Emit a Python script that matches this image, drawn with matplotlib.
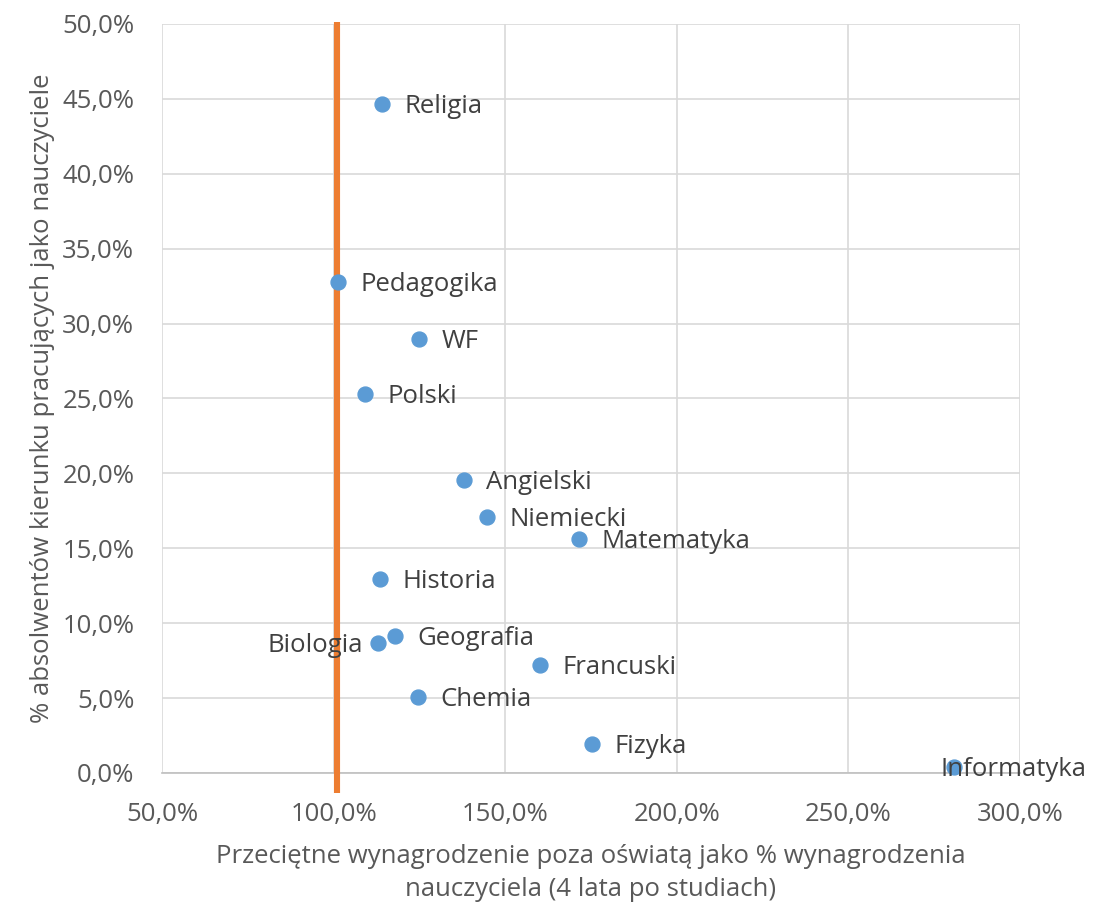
import matplotlib
matplotlib.use('Agg')
import matplotlib.pyplot as plt
from matplotlib.ticker import FuncFormatter

plt.rcParams['font.family'] = ['Open Sans', 'DejaVu Sans']

# data (percent)
kierunki = ['Religia', 'Pedagogika', 'WF', 'Polski', 'Angielski', 'Niemiecki',
            'Matematyka', 'Historia', 'Geografia', 'Biologia', 'Francuski',
            'Chemia', 'Fizyka', 'Informatyka']
wynagrodzenie = [114.1, 101.3, 124.9, 109.1, 138.0, 144.7, 171.5, 113.5,
                 117.9, 112.9, 160.1, 124.6, 175.3, 280.8]
nauczyciele = [44.66, 32.78, 28.97, 25.3, 19.56, 17.09, 15.62, 12.95,
               9.15, 8.68, 7.21, 5.07, 1.94, 0.40]
linia_x = [101.0, 101.0]
linia_y = [-1.35, 50.1]

fs = 18.5
fig = plt.figure(figsize=[11.06, 9.05], dpi=100)
ax = fig.add_axes([0.1465, 0.1459, 0.9222 - 0.1465, 0.9735 - 0.1459])

ax.plot(linia_x, linia_y, color='#ed7d31', linewidth=4.4, clip_on=False, zorder=3,
        solid_capstyle='butt')
ax.scatter(wynagrodzenie, nauczyciele, s=115, color='#5b9bd5', zorder=4, clip_on=False)

for name, x, y in zip(kierunki, wynagrodzenie, nauczyciele):
    if name == 'Biologia':
        off, ha = (-11, -2), 'right'
    elif name == 'Informatyka':
        off, ha = (-10, -2), 'left'
    else:
        off, ha = (16, -2), 'left'
    ax.annotate(name, (x, y), xytext=off, textcoords='offset points', ha=ha,
                va='center', fontsize=fs, color='#404040', zorder=5,
                annotation_clip=False)

ax.set_xlim(50, 300)
ax.set_ylim(0, 50)
ax.set_xticks(range(50, 301, 50))
ax.set_yticks(range(0, 51, 5))
fmt = FuncFormatter(lambda v, p: f'{v:.1f}%'.replace('.', ','))
ax.xaxis.set_major_formatter(fmt)
ax.yaxis.set_major_formatter(fmt)
ax.grid(True, color='#d9d9d9', linewidth=1.2)
ax.set_axisbelow(True)
for s in ['top', 'right', 'left']:
    ax.spines[s].set_visible(False)
ax.spines['bottom'].set_color('#bfbfbf')
ax.spines['bottom'].set_linewidth(1.2)
ax.tick_params(length=0, labelsize=fs, labelcolor='#595959')
ax.tick_params(axis='x', pad=21)
ax.tick_params(axis='y', pad=20)

ax.set_xlabel('Przeciętne wynagrodzenie poza oświatą jako % wynagrodzenia\nnauczyciela (4 lata po studiach)',
              fontsize=fs, color='#595959', labelpad=12, linespacing=1.45)
ax.set_ylabel('% absolwentów kierunku pracujących jako nauczyciele',
              fontsize=fs, color='#595959', labelpad=5)

fig.savefig('out.png', dpi=100)
